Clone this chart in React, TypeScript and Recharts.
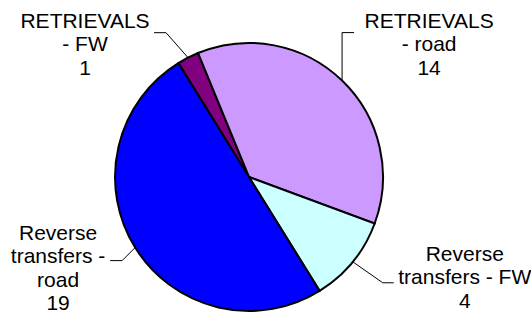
import React from 'react';
import { Cell, Pie, PieChart } from 'recharts';

const categories = ['RETRIEVALS - FW', 'RETRIEVALS - road', 'Reverse transfers - FW', 'Reverse transfers - road'];
const values = [1, 14, 4, 19];
const labelLines = [
  ['RETRIEVALS', '- FW'],
  ['RETRIEVALS', '- road'],
  ['Reverse', 'transfers - FW'],
  ['Reverse', 'transfers -', 'road']
];
const colors = ['#800080', '#CC99FF', '#CCFFFF', '#0000FF'];

// label placement relative to the point on the rim at the slice middle
const labelLayout = [
  { elbow: [-22, -25], end: [-34, -25], text: [-103, -30] },
  { elbow: [0, -48], end: [12, -48], text: [87, -53] },
  { elbow: [30, 21], end: [41, 21], text: [112, -1] },
  { elbow: [-13, 13], end: [-25, 13], text: [-77, -8] }
];

const data = categories.map((name, i) => ({ name, value: values[i] }));

const RAD = Math.PI / 180;
const LINE_H = 23.5;

const renderLabel = (props: any) => {
  const { cx, cy, midAngle, outerRadius, index, value } = props;
  const x0 = cx + outerRadius * Math.cos(-midAngle * RAD);
  const y0 = cy + outerRadius * Math.sin(-midAngle * RAD);
  const l = labelLayout[index];
  const lines = [...labelLines[index], String(value)];
  const tx = x0 + l.text[0];
  const ty = y0 + l.text[1];

  return (
    <g key={`lbl-${index}`}>
      <polyline
        points={`${x0},${y0} ${x0 + l.elbow[0]},${y0 + l.elbow[1]} ${x0 + l.end[0]},${y0 + l.end[1]}`}
        fill='none'
        stroke='#000'
        strokeWidth={1}
      />
      <text
        x={tx}
        y={ty}
        textAnchor='middle'
        fontFamily='"Liberation Sans", Arial, sans-serif'
        fontSize={21}
        fill='#000'
      >
        {lines.map((s, i) => (
          <tspan key={i} x={tx} y={ty + i * LINE_H}>
            {s}
          </tspan>
        ))}
      </text>
    </g>
  );
};

export default function App() {
  return (
    <div style={{ position: 'absolute', left: 0, top: 0 }}>
      <PieChart width={531} height={314} margin={{ top: 0, right: 0, bottom: 0, left: 0 }}>
        <Pie
          data={data}
          dataKey='value'
          nameKey='name'
          cx={249}
          cy={177}
          outerRadius={134}
          startAngle={121.8}
          endAngle={-238.2}
          stroke='#000'
          strokeWidth={2}
          label={renderLabel}
          labelLine={false}
          isAnimationActive={false}
        >
          {data.map((d, i) => (
            <Cell key={d.name} fill={colors[i]} />
          ))}
        </Pie>
      </PieChart>
    </div>
  );
}
